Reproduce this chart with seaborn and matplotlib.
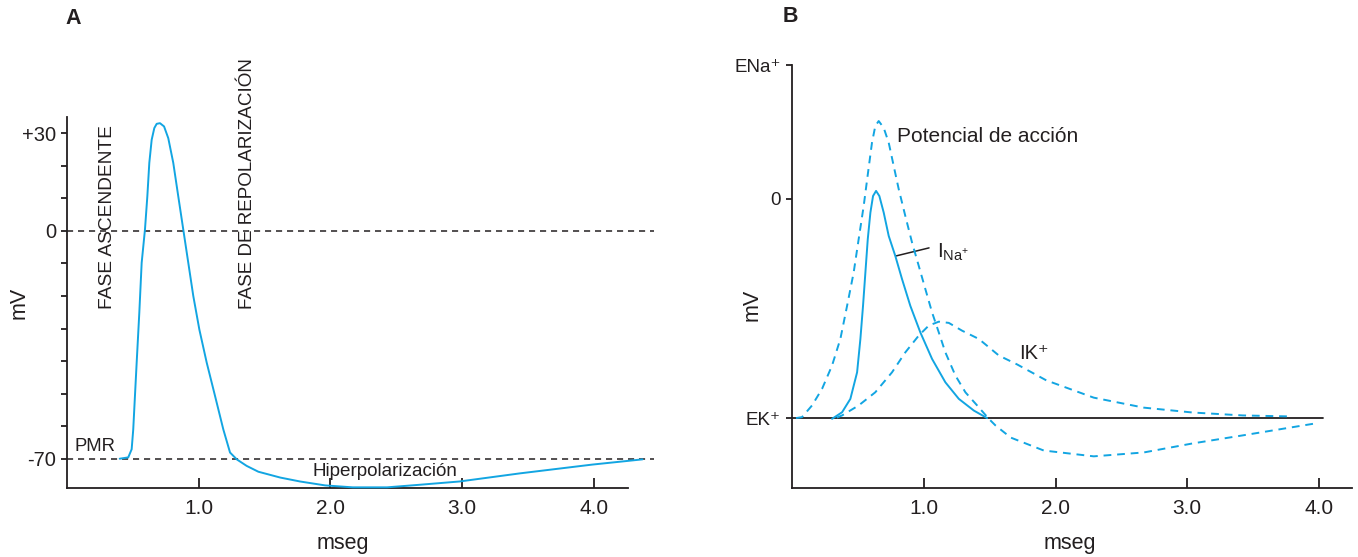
import numpy as np
import pandas as pd
import matplotlib
matplotlib.use("Agg")
import matplotlib.pyplot as plt
import seaborn as sns

# ---------------- data ----------------
# Panel A: action potential (mseg, mV)
a_time = [0.40, 0.465, 0.491, 0.503, 0.516, 0.529, 0.549, 0.567, 0.592, 0.610, 0.625, 0.643,
          0.663, 0.681, 0.706, 0.737, 0.769, 0.807, 0.845, 0.883, 0.921, 0.959, 1.005, 1.061,
          1.124, 1.187, 1.238, 1.289, 1.364, 1.453, 1.62, 1.77, 1.96, 2.17, 2.43, 2.68, 2.98,
          3.44, 3.99, 4.37]
a_mv = [-70.0, -69.6, -67.1, -61.0, -50.7, -40.5, -25.2, -9.8, 0.4, 10.6, 20.9, 28.0,
        31.6, 32.9, 33.1, 32.1, 28.5, 20.9, 10.6, 0.4, -9.8, -20.0, -30.3, -40.5,
        -50.7, -61.0, -68.1, -70.2, -72.2, -74.0, -75.8, -77.0, -78.2, -78.8, -78.8, -78.0, -77.0,
        -74.5, -71.8, -70.2]
a_ref_levels = [0, -70]
a_ytick_vals = [30, 20, 10, 0, -10, -20, -30, -40, -50, -60, -70]
a_ytick_labels = ["+30", "", "", "0", "", "", "", "", "", "", "-70"]
xtick_vals = [1, 2, 3, 4]
xtick_labels = ["1.0", "2.0", "3.0", "4.0"]

# Panel B: potential (dashed), I_Na (solid), I_K (dashed)
b_ap_time = [0.03, 0.076, 0.152, 0.228, 0.304, 0.367, 0.418, 0.468, 0.506, 0.544, 0.577, 0.607,
             0.632, 0.658, 0.696, 0.734, 0.772, 0.810, 0.860, 0.911, 0.962, 1.012, 1.063, 1.114,
             1.164, 1.240, 1.316, 1.405, 1.494, 1.544, 1.66, 1.91, 2.29, 2.67, 3.04, 3.42, 3.97]
b_ap_mv = [-90.0, -89.6, -84.8, -78.0, -68.4, -57.5, -43.9, -30.2, -16.5, -2.9, 10.8, 23.1,
           29.9, 32.0, 29.2, 23.1, 13.5, 4.0, -7.0, -17.9, -27.5, -37.0, -46.6, -54.8,
           -63.0, -72.5, -79.4, -84.8, -90.3, -93.0, -98.0, -103.3, -105.7, -104.1, -100.4, -97.1,
           -92.2]
b_ina_time = [0.304, 0.380, 0.443, 0.494, 0.519, 0.539, 0.557, 0.575, 0.595, 0.615, 0.638, 0.663,
              0.696, 0.734, 0.784, 0.835, 0.898, 0.974, 1.063, 1.164, 1.266, 1.380, 1.481]
b_ina_mv = [-90.3, -87.6, -82.1, -71.2, -57.5, -43.9, -30.2, -16.5, -5.6, 1.2, 3.3, 1.2,
            -5.6, -15.2, -23.4, -32.9, -43.9, -54.8, -65.7, -75.3, -82.1, -86.9, -90.0]
b_ik_time = [0.34, 0.38, 0.506, 0.632, 0.759, 0.860, 0.962, 1.038, 1.114, 1.190, 1.291, 1.418,
             1.57, 1.71, 1.93, 2.29, 2.67, 3.04, 3.42, 3.77]
b_ik_mv = [-89.8, -88.9, -84.8, -79.4, -71.2, -63.0, -56.1, -52.0, -50.4, -50.9, -54.1, -57.5,
           -64.3, -68.0, -74.5, -81.6, -85.7, -87.7, -88.9, -89.3]
b_levels = [55, 0, -90]
b_level_labels = ["ENa\u207a", "0", "EK\u207a"]

# ---------------- style ----------------
sns.set_theme(style="ticks")
plt.rcParams["font.family"] = ["Liberation Sans", "DejaVu Sans"]
plt.rcParams["mathtext.fontset"] = "custom"
plt.rcParams["mathtext.rm"] = "Liberation Sans"
plt.rcParams["mathtext.it"] = "Liberation Sans"

BLUE = "#12a5e2"
INK = "#231f20"
W, H = 1358, 557

fig = plt.figure(figsize=(W / 100, H / 100), dpi=100)


def fx(px):
    return px / W


def fy(py):
    return 1 - py / H


def style_axes(ax, ysize):
    for s in ["top", "right"]:
        ax.spines[s].set_visible(False)
    for s in ["left", "bottom"]:
        ax.spines[s].set_color(INK)
        ax.spines[s].set_linewidth(1.3)
    ax.tick_params(axis="x", direction="in", length=7, width=1.3, color=INK,
                   labelsize=15, labelcolor=INK, pad=8)
    ax.tick_params(axis="y", direction="out", length=4, width=1.3, color=INK,
                   labelsize=ysize, labelcolor=INK, pad=4)
    ax.set_xlabel("")
    ax.set_ylabel("")
    ax.set_facecolor("none")


# ---------------- panel A ----------------
axA = fig.add_axes([fx(67), fy(488), fx(628) - fx(67), fy(117) - fy(488)])
axA.set_xlim(0, 4.26)
axA.set_ylim(-79, 35)
for lvl in a_ref_levels:
    axA.plot([0, 4.46], [lvl, lvl], color=INK, linewidth=1.1, dashes=(4, 3.2),
             clip_on=False, zorder=1)
dfA = pd.DataFrame({"t": a_time, "mv": a_mv})
sns.lineplot(data=dfA, x="t", y="mv", ax=axA, sort=False, estimator=None,
             color=BLUE, linewidth=1.4, clip_on=False, zorder=3)
axA.set_yticks(a_ytick_vals, a_ytick_labels)
axA.set_xticks(xtick_vals, xtick_labels)
style_axes(axA, 14.5)

axA.text(0.31, -23.9, "FASE ASCENDENTE", rotation=90, ha="center", va="bottom",
         fontsize=13.8, color=INK)
axA.text(1.374, -23.9, "FASE DE REPOLARIZACIÓN", rotation=90, ha="center", va="bottom",
         fontsize=13.6, color=INK)
axA.text(0.21, -66.3, "PMR", ha="center", va="center", fontsize=13.3, color=INK)
axA.text(2.415, -74.0, "Hiperpolarización", ha="center", va="center", fontsize=13.6,
         color=INK)

fig.text(fx(73), fy(19), "A", fontsize=15.5, fontweight="bold", color=INK,
         ha="center", va="center")
fig.text(fx(19), fy(303), "mV", rotation=90, fontsize=15.5, color=INK,
         ha="center", va="center")
fig.text(fx(343), fy(543), "mseg", fontsize=15.5, color=INK, ha="center", va="center")

# ---------------- panel B ----------------
axB = fig.add_axes([fx(792), fy(488), fx(1352) - fx(792), fy(65) - fy(488)])
axB.set_xlim(0, 4.25)
axB.set_ylim(-118.7, 55)
axB.plot([0, 4.03], [b_levels[2], b_levels[2]], color=INK, linewidth=1.3, zorder=2)

dfAP = pd.DataFrame({"t": b_ap_time, "mv": b_ap_mv})
dfNa = pd.DataFrame({"t": b_ina_time, "mv": b_ina_mv})
dfK = pd.DataFrame({"t": b_ik_time, "mv": b_ik_mv})
sns.lineplot(data=dfAP, x="t", y="mv", ax=axB, sort=False, estimator=None,
             color=BLUE, linewidth=1.4, zorder=3)
axB.lines[-1].set_dashes((4, 3))
sns.lineplot(data=dfNa, x="t", y="mv", ax=axB, sort=False, estimator=None,
             color=BLUE, linewidth=1.4, zorder=3)
sns.lineplot(data=dfK, x="t", y="mv", ax=axB, sort=False, estimator=None,
             color=BLUE, linewidth=1.4, zorder=3)
axB.lines[-1].set_dashes((4, 3))

axB.set_yticks(b_levels, b_level_labels)
axB.set_xticks(xtick_vals, xtick_labels)
style_axes(axB, 13.5)

axB.text(0.80, 25.8, "Potencial de acción", ha="left", va="center", fontsize=15, color=INK)
axB.text(1.72, -63.5, "IK\u207a", ha="left", va="center", fontsize=14.5, color=INK)
axB.text(1.10, -24.2, r"$\mathrm{I_{Na^{+}}}$", ha="left", va="baseline", fontsize=15,
         color=INK)
axB.plot([0.79, 1.04], [-23.4, -20.1], color=INK, linewidth=1.1)

fig.text(fx(790), fy(17), "B", fontsize=15.5, fontweight="bold", color=INK,
         ha="center", va="center")
fig.text(fx(752), fy(305), "mV", rotation=90, fontsize=15.5, color=INK,
         ha="center", va="center")
fig.text(fx(1070), fy(543), "mseg", fontsize=15.5, color=INK, ha="center", va="center")

fig.savefig("out.png", dpi=100)
